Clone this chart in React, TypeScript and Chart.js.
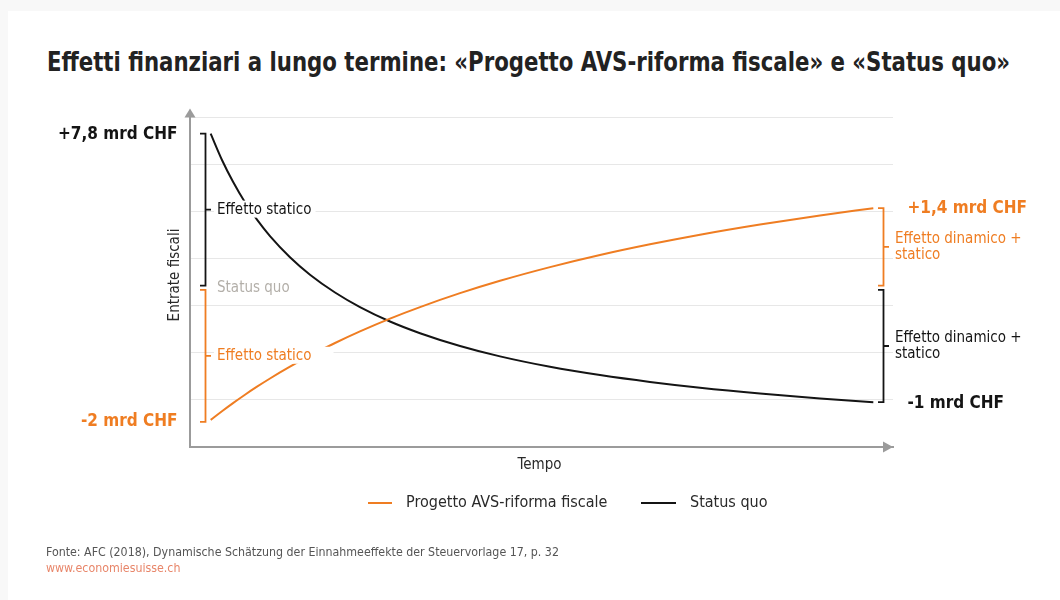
import React, { useEffect, useRef } from "react";
import { Chart, registerables } from "chart.js";

Chart.register(...registerables);

const FONT = "'Liberation Sans Narrow', 'DejaVu Sans Condensed', 'Roboto', sans-serif";
const ORANGE = "#ef7d22";
const BLACK = "#141414";
const AXIS = "#9b9b9b";
const GRID = "#e7e7e7";

const TITLE = "Effetti finanziari a lungo termine: «Progetto AVS-riforma fiscale» e «Status quo»";
const SERIES_NAMES = ["Progetto AVS-riforma fiscale", "Status quo"];
const X_TITLE = "Tempo";
const Y_TITLE = "Entrate fiscali";
const SOURCE = "Fonte: AFC (2018), Dynamische Schätzung der Einnahmeeffekte der Steuervorlage 17, p. 32";
const SITE = "www.economiesuisse.ch";

// schematic time axis (0..100) and revenue axis (0..7, gridline every unit)
const timeX = [
  2.94, 4.55, 6.12, 7.82, 9.53, 11.38, 14.22, 17.07, 20.63, 24.18, 28.45, 32.72, 38.41, 44.1, 51.21, 58.32, 65.43,
  72.55, 81.08, 89.62, 97.2,
];
const progettoY = [
  0.575, 0.759, 0.931, 1.109, 1.279, 1.453, 1.703, 1.937, 2.206, 2.452, 2.724, 2.968, 3.263, 3.526, 3.816, 4.073, 4.3,
  4.504, 4.72, 4.913, 5.066,
];
const statusQuoY = [
  6.646, 6.088, 5.626, 5.193, 4.822, 4.474, 4.026, 3.655, 3.277, 2.968, 2.662, 2.414, 2.143, 1.922, 1.701, 1.525, 1.379,
  1.256, 1.133, 1.029, 0.95,
];

const startLabels = ["+7,8 mrd CHF", "-2 mrd CHF"];
const endLabels = ["+1,4 mrd CHF", "-1 mrd CHF"];
const STATIC_LABEL = "Effetto statico";
const DYNAMIC_LABEL = ["Effetto dinamico +", "statico"];
const BASELINE_LABEL = "Status quo";

const statusQuoLevel = 3.38;
const bracketGap = 0.045;
const leftBracketX = 2.13;
const rightBracketX = 98.58;

const TITLE_WIDTH = 963;

function measureText(str: string, font: string): number {
  const c = document.createElement("canvas").getContext("2d");
  if (!c) return 0;
  c.font = font;
  return c.measureText(str).width;
}

const annotationPlugin = {
  id: "annotations",
  afterDatasetsDraw(chart: any) {
    const { ctx, scales } = chart;
    const xs = scales.x;
    const ys = scales.y;
    const px = (v: number) => xs.getPixelForValue(v);
    const py = (v: number) => ys.getPixelForValue(v);
    const reg = (s: number) => `400 ${s}px ${FONT}`;
    const bold = (s: number) => `700 ${s}px ${FONT}`;

    const bracket = (x: number, top: number, bottom: number, color: string) => {
      const bx = Math.round(px(x)) + 0.5;
      const t = py(top);
      const b = py(bottom);
      const m = (t + b) / 2;
      ctx.save();
      ctx.strokeStyle = color;
      ctx.lineWidth = 1.8;
      ctx.beginPath();
      ctx.moveTo(bx - 5.5, t);
      ctx.lineTo(bx, t);
      ctx.lineTo(bx, b);
      ctx.lineTo(bx - 5.5, b);
      ctx.moveTo(bx, m);
      ctx.lineTo(bx + 5.5, m);
      ctx.stroke();
      ctx.restore();
      return { bx, t, b, m };
    };

    const text = (
      str: string,
      x: number,
      y: number,
      font: string,
      color: string,
      align: CanvasTextAlign = "left",
      bg = false,
      padR = 4
    ) => {
      ctx.save();
      ctx.font = font;
      ctx.textAlign = align;
      ctx.textBaseline = "middle";
      if (bg) {
        const w = ctx.measureText(str).width;
        const left = align === "left" ? x : x - w;
        ctx.fillStyle = "#ffffff";
        ctx.fillRect(left - 3, y - 9, w + 3 + padR, 17);
      }
      ctx.fillStyle = color;
      ctx.fillText(str, x, y);
      ctx.restore();
    };

    const n = progettoY.length - 1;
    const k = statusQuoY.length - 1;

    const lb1 = bracket(leftBracketX, statusQuoY[0], statusQuoLevel + bracketGap, BLACK);
    const lb2 = bracket(leftBracketX, statusQuoLevel - bracketGap, progettoY[0] - 0.04, ORANGE);
    const rb1 = bracket(rightBracketX, progettoY[n], statusQuoLevel + bracketGap, ORANGE);
    const rb2 = bracket(rightBracketX, statusQuoLevel - bracketGap, statusQuoY[k], BLACK);

    const lx = lb1.bx + 11.5;
    text(STATIC_LABEL, lx, lb1.m, reg(15), BLACK, "left", true, 4);
    text(BASELINE_LABEL, lx, py(statusQuoLevel), reg(15), "#b3afa9", "left", false);
    text(STATIC_LABEL, lx, lb2.m, reg(15), ORANGE, "left", true, 22);

    const rx = rb1.bx + 11.5;
    text(DYNAMIC_LABEL[0], rx, rb1.m - 8, reg(15), ORANGE);
    text(DYNAMIC_LABEL[1], rx, rb1.m + 8.5, reg(15), ORANGE);
    text(DYNAMIC_LABEL[0], rx, rb2.m - 8, reg(15), BLACK);
    text(DYNAMIC_LABEL[1], rx, rb2.m + 8.5, reg(15), BLACK);

    text(startLabels[0], lb1.bx - 28, lb1.t + 1, bold(17), BLACK, "right");
    text(startLabels[1], lb2.bx - 28, lb2.b, bold(17), ORANGE, "right");
    text(endLabels[0], rb1.bx + 24, rb1.t, bold(17), ORANGE, "left");
    text(endLabels[1], rb2.bx + 24, rb2.b + 1, bold(17), BLACK, "left");
  },
  afterDraw(chart: any) {
    const { ctx, chartArea } = chart;
    const { left, right, top, bottom } = chartArea;
    ctx.save();
    ctx.fillStyle = AXIS;
    ctx.beginPath();
    ctx.moveTo(left - 5.5, top + 0.5);
    ctx.lineTo(left + 5.5, top + 0.5);
    ctx.lineTo(left, top - 8.5);
    ctx.closePath();
    ctx.fill();
    ctx.beginPath();
    ctx.moveTo(right - 10, bottom - 5.5);
    ctx.lineTo(right - 10, bottom + 5.5);
    ctx.lineTo(right, bottom);
    ctx.closePath();
    ctx.fill();

    ctx.fillStyle = "#2a2a2a";
    ctx.font = `400 15px ${FONT}`;
    ctx.textAlign = "center";
    ctx.textBaseline = "middle";
    ctx.fillText(X_TITLE, (left + right) / 2 - 2, bottom + 18);
    ctx.save();
    ctx.translate(left - 15, (top + bottom) / 2 - 7);
    ctx.rotate(-Math.PI / 2);
    ctx.fillText(Y_TITLE, 0, 0);
    ctx.restore();

    const ly = bottom + 56;
    const items = [
      { color: ORANGE, x0: 368, x1: 392, tx: 406, label: SERIES_NAMES[0] },
      { color: BLACK, x0: 641, x1: 676, tx: 690, label: SERIES_NAMES[1] },
    ];
    ctx.font = `400 16px ${FONT}`;
    ctx.textAlign = "left";
    items.forEach((it) => {
      ctx.strokeStyle = it.color;
      ctx.lineWidth = 2;
      ctx.beginPath();
      ctx.moveTo(it.x0, ly);
      ctx.lineTo(it.x1, ly);
      ctx.stroke();
      ctx.fillStyle = "#2a2a2a";
      ctx.fillText(it.label, it.tx, ly);
    });
    ctx.restore();
  },
};

export default function App() {
  const ref = useRef<HTMLCanvasElement>(null);
  const titleFont = `700 27px ${FONT}`;
  const tw = measureText(TITLE, titleFont);
  const titleScale = tw > 0 ? Math.min(1, TITLE_WIDTH / tw) : 1;

  useEffect(() => {
    const chart = new Chart(ref.current as HTMLCanvasElement, {
      type: "line",
      data: {
        datasets: [
          {
            label: SERIES_NAMES[0],
            data: timeX.map((x, i) => ({ x, y: progettoY[i] })),
            borderColor: ORANGE,
            backgroundColor: ORANGE,
            borderWidth: 2,
            pointRadius: 0,
            fill: false,
            cubicInterpolationMode: "monotone",
          },
          {
            label: SERIES_NAMES[1],
            data: timeX.map((x, i) => ({ x, y: statusQuoY[i] })),
            borderColor: BLACK,
            backgroundColor: BLACK,
            borderWidth: 2,
            pointRadius: 0,
            fill: false,
            cubicInterpolationMode: "monotone",
          },
        ],
      },
      options: {
        responsive: false,
        animation: false,
        layout: { padding: { left: 190, right: 167, top: 117, bottom: 153 } },
        plugins: { legend: { display: false }, tooltip: { enabled: false }, title: { display: false } },
        scales: {
          x: {
            type: "linear",
            min: 0,
            max: 100,
            grid: { display: false, drawTicks: false },
            border: { display: true, color: AXIS, width: 2 },
            ticks: { display: false },
            afterFit: (s: any) => {
              s.height = 0;
            },
          },
          y: {
            type: "linear",
            min: 0,
            max: 7,
            grid: { color: GRID, lineWidth: 1, drawTicks: false },
            border: { display: true, color: AXIS, width: 2 },
            ticks: { display: false, stepSize: 1 },
            afterFit: (s: any) => {
              s.width = 0;
            },
          },
        },
      },
      plugins: [annotationPlugin],
    });
    return () => chart.destroy();
  }, []);

  return (
    <div style={{ position: "absolute", left: 0, top: 0, width: 1060, height: 600, background: "#f8f8f8", overflow: "hidden" }}>
      <div style={{ position: "absolute", left: 8, top: 11, right: 0, bottom: 0, background: "#ffffff" }} />
      <div
        style={{
          position: "absolute",
          left: 47,
          top: 45,
          fontFamily: FONT,
          fontWeight: 700,
          fontSize: 27,
          lineHeight: "34px",
          color: "#222222",
          whiteSpace: "nowrap",
          transform: `scaleX(${titleScale})`,
          transformOrigin: "0 50%",
        }}
      >
        {TITLE}
      </div>
      <canvas ref={ref} width={1060} height={600} style={{ position: "absolute", left: 0, top: 0 }} />
      <div
        style={{
          position: "absolute",
          left: 46,
          top: 544,
          fontFamily: FONT,
          fontSize: 12.3,
          lineHeight: "16px",
          color: "#555555",
          whiteSpace: "nowrap",
        }}
      >
        <div>{SOURCE}</div>
        <div style={{ color: "#e8866a" }}>{SITE}</div>
      </div>
    </div>
  );
}
